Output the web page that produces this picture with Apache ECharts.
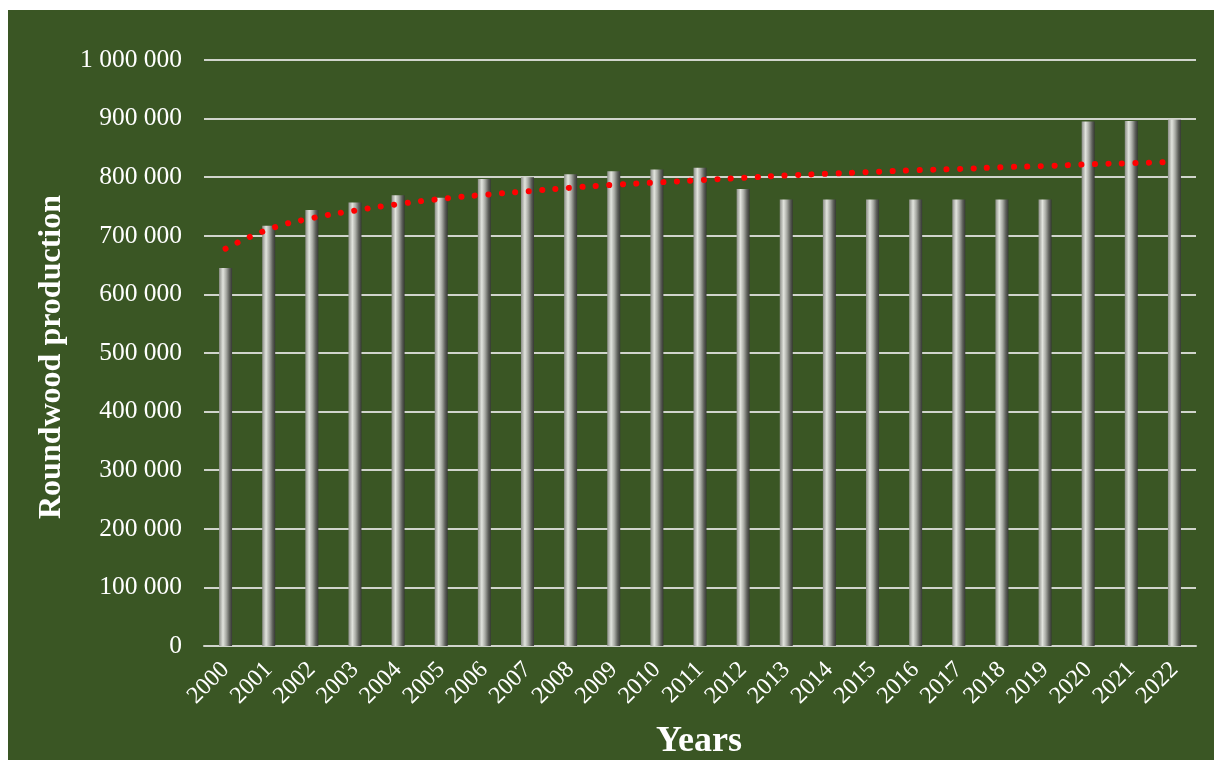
<!DOCTYPE html>
<html>
<head>
<meta charset="utf-8">
<script src="https://cdn.jsdelivr.net/npm/echarts@6/dist/echarts.min.js"></script>
<style>
html,body{margin:0;padding:0;background:#ffffff;width:1214px;height:760px;overflow:hidden;}
#chart{position:absolute;left:8px;top:10px;width:1206px;height:750px;background:#3a5624;}
</style>
</head>
<body>
<div id="chart"></div>
<script>
const years = ['2000','2001','2002','2003','2004','2005','2006','2007','2008','2009','2010','2011','2012','2013','2014','2015','2016','2017','2018','2019','2020','2021','2022'];
const production = [645000,717000,744000,757000,769000,765000,797000,800000,805000,810000,813000,816000,780000,762000,762000,762000,762000,762000,762000,762000,895000,896000,898000];
const trend = [678000,711000,730000,743000,754000,763000,770000,776000,782000,787000,791000,795000,799000,803000,806000,809000,812000,814000,817000,819000,822000,824000,826000];
const yTicks = [0,100000,200000,300000,400000,500000,600000,700000,800000,900000,1000000];
const yTitle = 'Roundwood production';
const xTitle = 'Years';

const chart = echarts.init(document.getElementById('chart'), null, {renderer:'canvas'});
const font = '"Liberation Serif","Times New Roman",serif';
function fmt(v){ return String(v).replace(/\B(?=(\d{3})+(?!\d))/g,' '); }

chart.setOption({
  backgroundColor:'#3a5624',
  animation:false,
  grid:{left:196,right:18,top:50,bottom:114,containLabel:false},
  graphic:[
    {type:'text',x:44,y:347,rotation:Math.PI/2,
     style:{text:yTitle,fill:'#ffffff',font:'bold 32px '+font,textAlign:'center',textVerticalAlign:'middle'}},
    {type:'text',x:691,y:732,
     style:{text:xTitle,fill:'#ffffff',font:'bold 36px '+font,textAlign:'center',textVerticalAlign:'middle'}}
  ],
  xAxis:{
    type:'category',data:years,
    axisLine:{show:true,lineStyle:{color:'#d0d4cc',width:2}},
    axisTick:{show:false},
    axisLabel:{rotate:45,color:'#ffffff',fontFamily:font,fontSize:24,margin:20,interval:0}
  },
  yAxis:{
    type:'value',min:0,max:1000000,interval:100000,
    axisLine:{show:false},axisTick:{show:false},
    splitLine:{show:true,lineStyle:{color:'#d0d4cc',width:2}},
    axisLabel:{color:'#ffffff',fontFamily:font,fontSize:25.5,margin:22,
      formatter:function(v){ return yTicks.indexOf(v)>=0 ? fmt(v) : ''; }}
  },
  series:[
    {type:'bar',data:production,barWidth:13,z:2,
     itemStyle:{color:new echarts.graphic.LinearGradient(0,0,1,0,[
       {offset:0,color:'#8c8e88'},
       {offset:0.3,color:'#e2e4de'},
       {offset:0.55,color:'#a9aba5'},
       {offset:0.8,color:'#5e605b'},
       {offset:1,color:'#363834'}
     ])}},
    {type:'line',data:trend,smooth:true,symbol:'none',z:3,
     lineStyle:{color:'#ff0000',width:6,type:[0.1,13.4],cap:'round'}}
  ]
});
</script>
</body>
</html>
